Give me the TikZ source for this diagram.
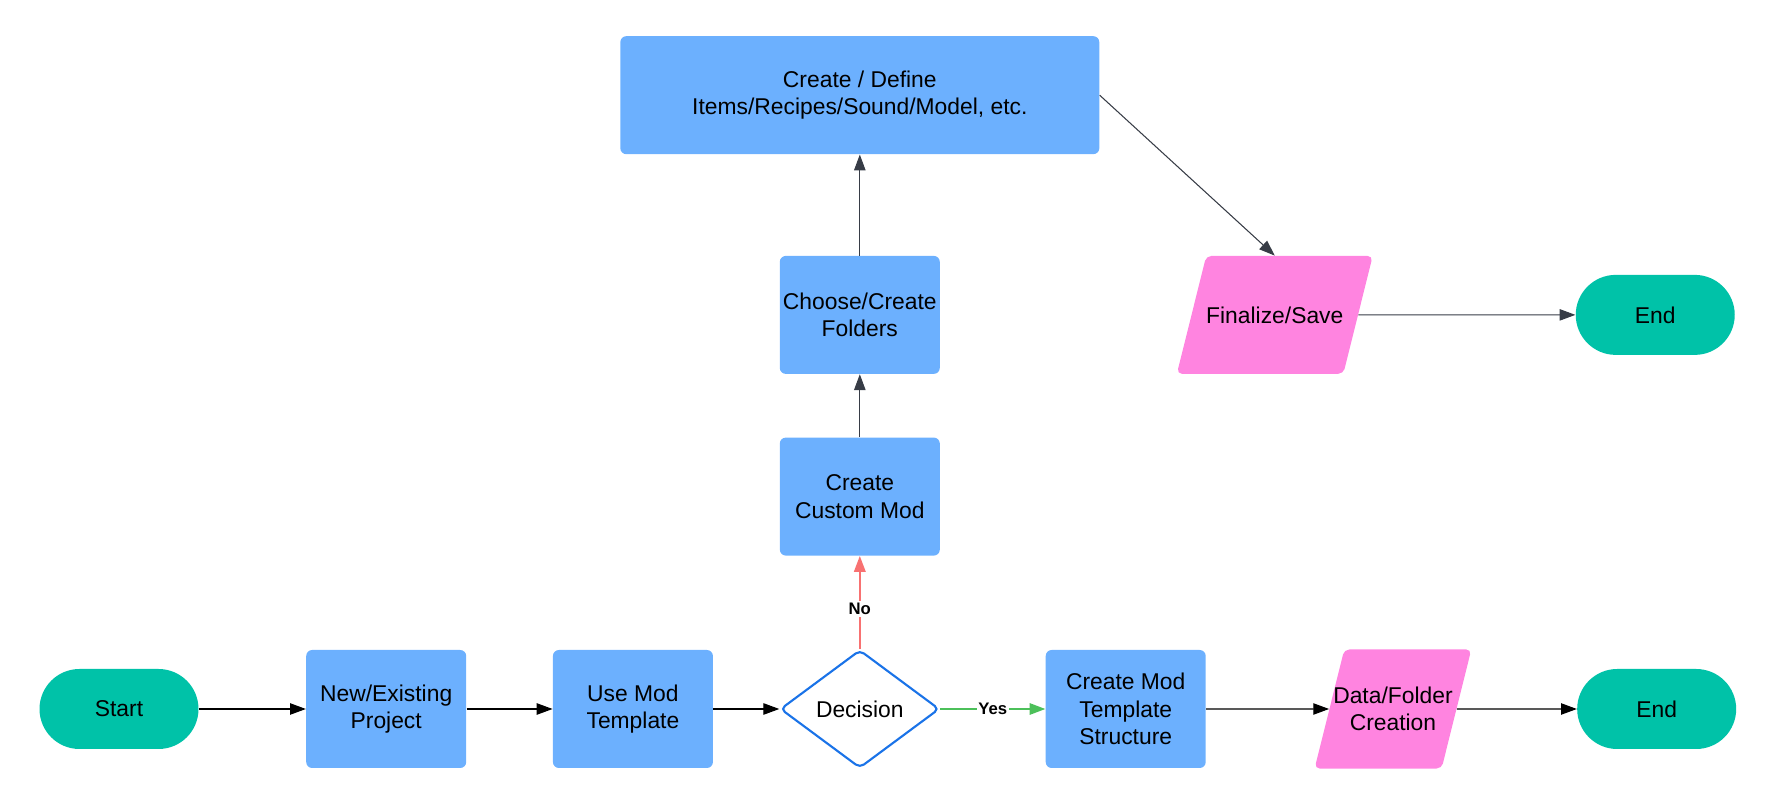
\documentclass[tikz,border=0pt]{standalone}
\usepackage{fontspec}
\setmainfont{Liberation Sans}
\usetikzlibrary{shapes.geometric,arrows.meta,positioning}
\definecolor{boxblue}{RGB}{108,176,254}
\definecolor{termteal}{RGB}{0,194,168}
\definecolor{iopink}{RGB}{255,132,224}
\definecolor{decblue}{RGB}{26,115,232}
\definecolor{nored}{RGB}{248,113,113}
\definecolor{yesgreen}{RGB}{76,192,90}
\definecolor{slate}{RGB}{55,60,70}

\begin{document}
\begin{tikzpicture}[every node/.style={font=\fontsize{13}{15.5}\selectfont},
  procbox/.style={fill=boxblue,rounded corners=0.12cm,minimum width=3.2cm,
    minimum height=2.36cm,align=center,inner sep=1pt},
  termbox/.style={fill=termteal,rounded corners=0.8cm,minimum width=3.18cm,
    minimum height=1.6cm},
  iobox/.style={trapezium,trapezium left angle=76,trapezium right angle=104,
    trapezium stretches body=true,fill=iopink,rounded corners=0.1cm,
    align=center,inner xsep=0pt},
  decbox/.style={diamond,draw=decblue,line width=1.2pt,fill=white,aspect=1.35,
    minimum width=3.18cm,minimum height=2.36cm,inner sep=0pt,rounded corners=0.1cm},
  flow/.style={-{Triangle[length=9pt,width=6.5pt]},line width=0.6pt},
  lbl/.style={font=\fontsize{9.5}{11}\selectfont\bfseries,fill=white,inner sep=1pt}]
\useasboundingbox (0,0) rectangle (35.52,16.22);
% bottom row
\node[termbox] (start) at (2.38,2.04) {Start};
\node[procbox,right=2.14cm of start] (proj) {New/Existing\\Project};
\node[procbox,right=1.72cm of proj] (tmpl) {Use Mod\\Template};
\node[decbox,right=1.32cm of tmpl] (dec) {Decision};
\node[procbox,right=2.1cm of dec] (struct) {Create Mod\\Template\\Structure};
\node[iobox,inner xsep=-0.22cm,inner ysep=0.75cm,right=2.46cm of struct] (data)
  {Data/Folder\\Creation};
\node[termbox,right=2.4cm of data] (endb) {End};
% upward branch
\node[procbox,above=1.86cm of dec] (custom) {Create\\Custom Mod};
\node[procbox,above=1.26cm of custom] (folders) {Choose/Create\\Folders};
\node[procbox,minimum width=9.58cm,above=2.02cm of folders] (define)
  {Create / Define\\Items/Recipes/Sound/Model, etc.};
\node[iobox,inner ysep=1.01cm,right=5.02cm of folders] (save) {Finalize/Save};
\node[termbox,right=4.34cm of save] (endt) {End};
% connectors
\draw[flow] (start) -- (proj);
\draw[flow] (proj) -- (tmpl);
\draw[flow] (tmpl) -- (dec);
\draw[flow,yesgreen,line width=1.1pt] (dec) -- node[lbl,text=black]{Yes} (struct);
\draw[flow] (struct) -- (data);
\draw[flow] (data) -- (endb);
\draw[flow,nored,line width=1.1pt] (dec) -- node[lbl,text=black,pos=0.43]{No} (custom);
\draw[flow,slate] (custom) -- (folders);
\draw[flow,slate] (folders) -- (define);
\draw[flow,slate] (define.east) -- (save.north);
\draw[flow,slate] (save) -- (endt);
\end{tikzpicture}
\end{document}
